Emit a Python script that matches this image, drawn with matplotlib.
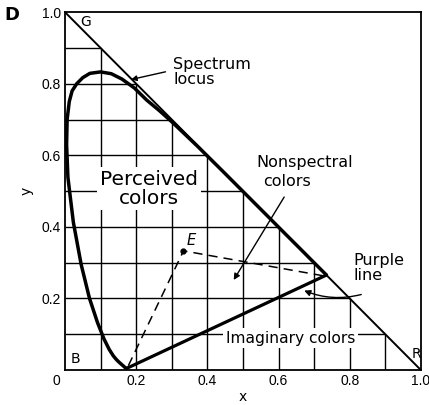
import matplotlib
matplotlib.use('Agg')
import matplotlib.pyplot as plt
import numpy as np

# spectrum locus (violet end -> red end)
locus_x = [0.1741, 0.1733, 0.1714, 0.1689, 0.1644, 0.1566, 0.1510, 0.1440,
           0.1355, 0.1241, 0.1096, 0.0913, 0.0687, 0.0454, 0.0235, 0.0082,
           0.0045, 0.0060, 0.0120, 0.0200, 0.0330, 0.0500, 0.0700, 0.1000,
           0.1300, 0.1600, 0.1950, 0.2296, 0.2658, 0.3016, 0.3731, 0.4441,
           0.5125, 0.5752, 0.6270, 0.6658, 0.6915, 0.7079, 0.7190, 0.7260,
           0.7347]
locus_y = [0.0050, 0.0048, 0.0051, 0.0069, 0.0109, 0.0177, 0.0227, 0.0297,
           0.0399, 0.0578, 0.0868, 0.1327, 0.2007, 0.2950, 0.4127, 0.5384,
           0.6300, 0.7000, 0.7500, 0.7800, 0.8000, 0.8170, 0.8290, 0.8330,
           0.8280, 0.8130, 0.7880, 0.7543, 0.7243, 0.6923, 0.6245, 0.5547,
           0.4866, 0.4242, 0.3725, 0.3340, 0.3083, 0.2920, 0.2809, 0.2740,
           0.2653]

# equal-energy point E and the dashed construction line through it
white_x, white_y = 0.333, 0.333
dash_x = [0.178, 0.333, 0.733]
dash_y = [0.012, 0.333, 0.262]

grid_vals = np.round(np.arange(0.1, 1.0, 0.1), 1)
ticks = [0.2, 0.4, 0.6, 0.8, 1.0]
tick_labels = ['0.2', '0.4', '0.6', '0.8', '1.0']

plt.rcParams['font.family'] = ['DejaVu Sans']

fig = plt.figure(figsize=(4.29, 4.05), dpi=100)
ax = fig.add_axes([0.1515, 0.0864, 0.8295, 0.8836])
ax.set_xlim(0, 1)
ax.set_ylim(0, 1)

# grid only inside the x + y <= 1 triangle
ax.vlines(grid_vals, 0, 1 - grid_vals, color='black', lw=1.0, zorder=1)
ax.hlines(grid_vals, 0, 1 - grid_vals, color='black', lw=1.0, zorder=1)

# x + y = 1 line
ax.plot([0, 1], [1, 0], color='black', lw=1.4, zorder=2)

# spectrum locus + purple line
ax.plot(locus_x, locus_y, color='black', lw=2.5, zorder=3,
        solid_joinstyle='round', solid_capstyle='round')
ax.plot([locus_x[-1], locus_x[0]], [locus_y[-1], locus_y[0]], color='black',
        lw=2.3, zorder=3, solid_capstyle='round')

ax.plot(dash_x, dash_y, color='black', lw=1.1, ls=(0, (6, 4)), zorder=3)
ax.plot(white_x, white_y, 'o', color='black', ms=3.5, zorder=4)

for s in ax.spines.values():
    s.set_linewidth(1.3)

ax.set_xticks(ticks)
ax.set_xticklabels(tick_labels)
ax.set_yticks(ticks)
ax.set_yticklabels(tick_labels)
ax.tick_params(length=0, pad=3, labelsize=10)
for lab in ax.get_xticklabels() + ax.get_yticklabels():
    lab.set_family('Liberation Sans')
ax.text(-0.023, -0.031, '0', ha='center', va='center', fontsize=10,
        family='Liberation Sans')
ax.set_xlabel('x', fontsize=10, labelpad=1)
ax.set_ylabel('y', fontsize=10, labelpad=6)

fig.text(0.028, 0.962, 'D', fontsize=13, fontweight='bold', ha='center', va='center')

box = dict(facecolor='white', edgecolor='none', pad=2)
ax.text(0.059, 0.972, 'G', fontsize=10, ha='center', va='center')
ax.text(0.03, 0.03, 'B', fontsize=10, ha='center', va='center')
ax.text(0.988, 0.045, 'R', fontsize=10, ha='center', va='center')
ax.text(0.355, 0.362, 'E', fontsize=10.5, style='italic', ha='center', va='center')

ax.text(0.236, 0.507, 'Perceived\ncolors', fontsize=14.5, ha='center', va='center',
        linespacing=1.0, bbox=box, zorder=5)

ax.text(0.304, 0.832, 'Spectrum\nlocus', fontsize=11.5, ha='left', va='center',
        linespacing=1.0)
ax.annotate('', xy=(0.178, 0.81), xytext=(0.29, 0.835),
            arrowprops=dict(arrowstyle='-|>', color='black', lw=1.0, mutation_scale=8))

ax.text(0.673, 0.581, 'Nonspectral', fontsize=11.5, ha='center', va='center')
ax.text(0.625, 0.528, 'colors', fontsize=11.5, ha='center', va='center')
ax.annotate('', xy=(0.47, 0.245), xytext=(0.62, 0.49),
            arrowprops=dict(arrowstyle='-|>', color='black', lw=1.0, mutation_scale=9))

ax.text(0.81, 0.285, 'Purple\nline', fontsize=11.5, ha='left', va='center',
        linespacing=1.0)
ax.annotate('', xy=(0.665, 0.225), xytext=(0.84, 0.213),
            arrowprops=dict(arrowstyle='-|>', color='black', lw=1.0, mutation_scale=9,
                            connectionstyle='arc3,rad=-0.18'))

ax.text(0.634, 0.089, 'Imaginary colors', fontsize=11.2, ha='center', va='center',
        bbox=box, zorder=5)

fig.savefig('out.png', dpi=100)
